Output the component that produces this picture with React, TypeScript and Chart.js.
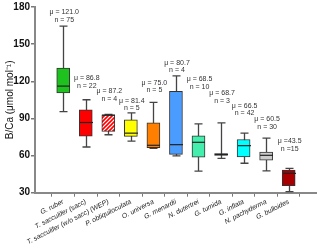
import React, { useEffect, useRef } from "react";
import { Chart, registerables } from "chart.js";

Chart.register(...registerables);

const categories = [
  "G. ruber",
  "T. sacculifer (sacc)",
  "T. sacculifer (w/o sacc) (WEP)",
  "P. obliquiloculata",
  "O. universa",
  "G. menardii",
  "N. dutertrei",
  "G. tumida",
  "G. inflata",
  "N. pachyderma",
  "G. bulloides",
];
const whiskerMin = [95.5, 66.9, 76.8, 71.7, 65.8, 59.7, 47.4, 57.8, 53.8, 47.6, 30.8];
const q1 = [110.5, 75.7, 79.5, 75.5, 66.4, 61.0, 58.6, 60.2, 58.9, 56.2, 35.6];
const median = [116.1, 86.7, 92.6, 78.1, 68.3, 68.8, 70.7, 60.9, 68.0, 60.2, 45.6];
const q3 = [130.6, 96.9, 92.8, 88.9, 86.4, 111.8, 76.0, 61.6, 73.0, 62.9, 48.2];
const whiskerMax = [164.5, 105.1, 93.3, 94.5, 103.0, 124.4, 85.6, 86.4, 78.1, 74.1, 49.6];
const meanLabels = ["μ = 121.0", "μ = 86.8", "μ = 87.2", "μ = 81.4", "μ = 75.0", "μ = 80.7", "μ = 68.5", "μ = 68.7", "μ = 66.5", "μ = 60.5", "μ =43.5"];
const countLabels = ["n = 75", "n = 22", "n = 4", "n = 5", "n = 5", "n = 4", "n = 10", "n = 3", "n = 42", "n = 30", "n =15"];
const labelY = [175.7, 122.5, 111.8, 104.3, 118.8, 134.8, 121.4, 110.2, 100.3, 89.1, 71.7];
const yTicks = [30, 60, 90, 120, 150, 180];

const fills = ["#1ec21e", "#ff0000", "HATCH", "#ffff00", "#ff8000", "#4a9cff", "#44eeac", "rgba(0,0,0,0)", "#00ffff", "#cccccc", "#a80000"];

const FONT = "'Liberation Sans', Arial, sans-serif";

function makeHatch(): CanvasPattern | string {
  const c = document.createElement("canvas");
  c.width = 4;
  c.height = 4;
  const g = c.getContext("2d");
  if (!g) return "#ff0000";
  g.fillStyle = "#ffffff";
  g.fillRect(0, 0, 4, 4);
  g.strokeStyle = "#ff0000";
  g.lineWidth = 1.6;
  g.beginPath();
  g.moveTo(0, 4);
  g.lineTo(4, 0);
  g.moveTo(-1, 1);
  g.lineTo(1, -1);
  g.moveTo(3, 5);
  g.lineTo(5, 3);
  g.stroke();
  const p = g.createPattern(c, "repeat");
  return p || "#ff0000";
}

export default function App() {
  const ref = useRef<HTMLCanvasElement | null>(null);
  useEffect(() => {
    if (!ref.current) return;
    const hatch = makeHatch();
    const bg = fills.map((f) => (f === "HATCH" ? hatch : f));
    const boxHalf = 6.5;
    const capHalf = 4;

    const boxPlugin = {
      id: "boxParts",
      beforeDatasetsDraw(chart: any) {
        const { ctx, scales } = chart;
        const xs = scales.x;
        const ys = scales.y;
        ctx.save();
        ctx.strokeStyle = "#444444";
        ctx.lineWidth = 1.3;
        for (let i = 0; i < categories.length; i++) {
          const x = Math.round(xs.getPixelForValue(i)) + 0.5;
          const yTop = ys.getPixelForValue(whiskerMax[i]);
          const yBot = ys.getPixelForValue(whiskerMin[i]);
          ctx.beginPath();
          ctx.moveTo(x, yTop);
          ctx.lineTo(x, yBot);
          ctx.moveTo(x - capHalf, yTop);
          ctx.lineTo(x + capHalf, yTop);
          ctx.moveTo(x - capHalf, yBot);
          ctx.lineTo(x + capHalf, yBot);
          ctx.stroke();
        }
        ctx.restore();
      },
      afterDatasetsDraw(chart: any) {
        const { ctx, scales } = chart;
        const xs = scales.x;
        const ys = scales.y;
        ctx.save();
        ctx.strokeStyle = "#222222";
        ctx.lineWidth = 1.2;
        for (let i = 0; i < categories.length; i++) {
          const x = Math.round(xs.getPixelForValue(i)) + 0.5;
          const ym = ys.getPixelForValue(median[i]);
          ctx.beginPath();
          ctx.moveTo(x - boxHalf, ym);
          ctx.lineTo(x + boxHalf, ym);
          ctx.stroke();
        }
        ctx.fillStyle = "#333333";
        ctx.font = `7px ${FONT}`;
        ctx.textAlign = "center";
        ctx.textBaseline = "middle";
        for (let i = 0; i < categories.length; i++) {
          const x = xs.getPixelForValue(i) + 1;
          const y = ys.getPixelForValue(labelY[i]);
          ctx.fillText(meanLabels[i], x, y);
          ctx.fillText(countLabels[i], x, y + 7.5);
        }
        ctx.restore();
      },
    };

    const chart = new Chart(ref.current, {
      type: "bar",
      data: {
        datasets: [
          {
            data: categories.map((_, i) => ({ x: i, y: [q1[i], q3[i]] })) as any,
            backgroundColor: bg as any,
            borderColor: "#333333",
            borderWidth: 1,
            borderSkipped: false,
            barThickness: 13,
          } as any,
        ],
      },
      options: {
        animation: false,
        responsive: false,
        maintainAspectRatio: false,
        layout: { padding: { top: 6, right: 4, left: 0, bottom: 0 } },
        plugins: { legend: { display: false }, tooltip: { enabled: false } },
        scales: {
          x: {
            type: "linear",
            min: -0.685,
            max: 10.645,
            afterBuildTicks: (scale: any) => {
              scale.ticks = categories.map((_, i) => ({ value: i }));
            },
            afterFit: (scale: any) => {
              scale.height = 58.3;
            },
            ticks: {
              autoSkip: false,
              minRotation: 27,
              maxRotation: 27,
              padding: 1,
              color: "#222222",
              font: { family: FONT, size: 6.8, style: "italic" },
              callback: (v: any) => categories[Math.round(Number(v))] ?? "",
            },
            grid: {
              display: true,
              drawOnChartArea: false,
              drawTicks: true,
              tickLength: 4,
              color: "#777777",
              lineWidth: 1,
            },
            border: { display: true, color: "#888888", width: 2 },
          },
          y: {
            min: 30,
            max: 180,
            afterBuildTicks: (scale: any) => {
              scale.ticks = yTicks.map((v) => ({ value: v }));
            },
            afterFit: (scale: any) => {
              scale.width = 35;
            },
            ticks: {
              padding: 1,
              color: "#111111",
              font: { family: FONT, size: 10, weight: "bold" },
            },
            grid: {
              display: true,
              drawOnChartArea: false,
              drawTicks: true,
              tickLength: 4,
              color: "#777777",
              lineWidth: 1.5,
            },
            border: { display: true, color: "#888888", width: 2 },
            title: {
              display: true,
              text: "B/Ca (μmol mol⁻¹)",
              color: "#111111",
              font: { family: FONT, size: 10 },
              padding: { top: 4, bottom: 0 },
            },
          },
        },
      } as any,
      plugins: [boxPlugin],
    });
    return () => chart.destroy();
  }, []);

  return (
    <div style={{ position: "absolute", left: 0, top: 0, width: 320, height: 251 }}>
      <canvas ref={ref} width={320} height={251} style={{ width: 320, height: 251 }} />
    </div>
  );
}
